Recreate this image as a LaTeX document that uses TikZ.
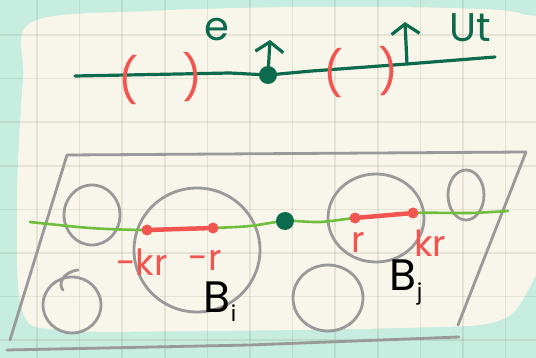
\documentclass[tikz,border=0pt]{standalone}
\usepackage{fontspec}
\setmainfont{Poppins}
\usetikzlibrary{arrows.meta, positioning}
\definecolor{mint}{HTML}{C6EDDF}
\definecolor{paper}{HTML}{F8F6EA}
\definecolor{inkgreen}{HTML}{0C6B4C}
\definecolor{leaf}{HTML}{6FBE3C}
\definecolor{coral}{HTML}{F25550}
\definecolor{pencil}{HTML}{999999}
\tikzset{
  gridln/.style={draw=black!70!yellow, opacity=0.12, line width=1.6pt},
  ink/.style={draw=inkgreen, line width=3.2pt, line cap=round, line join=round},
  inkarrow/.style={ink, -{Straight Barb[length=10pt, width=28pt]}},
  tdot/.style={circle, fill=inkgreen, minimum size=18pt, inner sep=0pt},
  pen/.style={draw=pencil, line width=2.8pt, line cap=round, line join=round},
  stem/.style={draw=leaf, line width=2.6pt, line cap=round},
  seg/.style={draw=coral, line width=4.5pt, line cap=round},
  rdot/.style={circle, fill=coral, minimum size=11pt, inner sep=0pt},
  paren/.style={text=coral, font=\fontsize{44}{44}\selectfont, inner sep=0pt},
  rlab/.style={text=coral, font=\fontsize{36}{36}\selectfont, inner sep=0pt},
  glab/.style={text=inkgreen, font=\fontsize{40}{40}\selectfont, inner sep=0pt},
  blab/.style={text=black, font=\fontsize{44}{44}\selectfont, inner sep=0pt},
}
\begin{document}
\begin{tikzpicture}[x=1pt, y=-1pt]
  \useasboundingbox (0,0) rectangle (536,358);
  % sheet and grid
  \fill[mint] (0,0) rectangle (536,358);
  \fill[paper] plot[smooth cycle, tension=0.55] coordinates {(32,22) (150,11) (300,7) (450,8) (522,14) (545,40) (545,230) (527,292) (495,322) (400,328) (200,331) (60,330) (22,310) (17,200) (23,80)};
  \foreach \gx in {37,79.6,...,530} \draw[gridln] (\gx,0) -- (\gx,358);
  \foreach \gy in {35,78.6,...,350} \draw[gridln] (0,\gy) -- (536,\gy);

  % top line
  \node[tdot] (p) at (268,75) {};
  \coordinate (tl) at (75,76);
  \coordinate (ub) at (407,64);
  \coordinate (tr) at (495,57);
  \coordinate (et) at (270,40);
  \coordinate (ut) at (405,22);
  \draw[ink] (tl) -- (230,73) -- (p.center) -- (312,71) -- (ub) -- (tr);
  \draw[inkarrow] (p) -- (et);
  \draw[inkarrow] (ub) -- (ut);
  \node[glab] (le) at (217,30) {e};
  \node[glab] (lu) at (470,28) {Ut};
  \node[paren] (o1) at (128,80) {(};
  \node[paren] (c1) at (192,77) {)};
  \node[paren] (o2) at (333,73) {(};
  \node[paren] (c2) at (388,71) {)};

  % frame
  \draw[pen] (10,340) -- (67,155) -- (526,152) -- (458,325);
  \draw[pen] (7,350) -- (250,345) -- (459,337);

  % balls
  \draw[pen] (92,215) ellipse [x radius=28pt, y radius=30pt];
  \draw[pen] (72,305) ellipse [x radius=29pt, y radius=28pt];
  \draw[pen] (78,270) .. controls (62,272) and (58,285) .. (63,290);
  \draw[pen] (197,250) ellipse [x radius=63pt, y radius=62pt];
  \draw[pen] (328,298) ellipse [x radius=35pt, y radius=33pt];
  \draw[pen] (376,218) ellipse [x radius=48pt, y radius=44pt];
  \draw[pen] (466,195) ellipse [x radius=18pt, y radius=25pt];

  % line through the balls
  \draw[stem] plot[smooth, tension=0.5] coordinates {(30,222) (90,228) (147,230) (213,228) (250,226) (285,221) (320,222) (355,218) (413,213) (470,213) (508,211)};
  \node[rdot] (a1) at (147,230) {};
  \node[rdot] (a2) at (213,228) {};
  \node[rdot] (b1) at (355,218) {};
  \node[rdot] (b2) at (413,213) {};
  \draw[seg] (a1) -- (a2);
  \draw[seg] (b1) -- (b2);
  \node[tdot] (q) at (285,221) {};

  % labels
  \node[rlab] (la1) at (142,262) {-kr};
  \node[rlab] (la2) at (205,260) {-r};
  \node[rlab] (lb1) at (358,242) {r};
  \node[rlab] (lb2) at (430,243) {kr};
  \node[blab] (bi) at (220,302) {B\raisebox{-9pt}{\fontsize{22}{22}\selectfont i}};
  \node[blab] (bj) at (406,283) {B\raisebox{-9pt}{\fontsize{22}{22}\selectfont j}};
\end{tikzpicture}
\end{document}
